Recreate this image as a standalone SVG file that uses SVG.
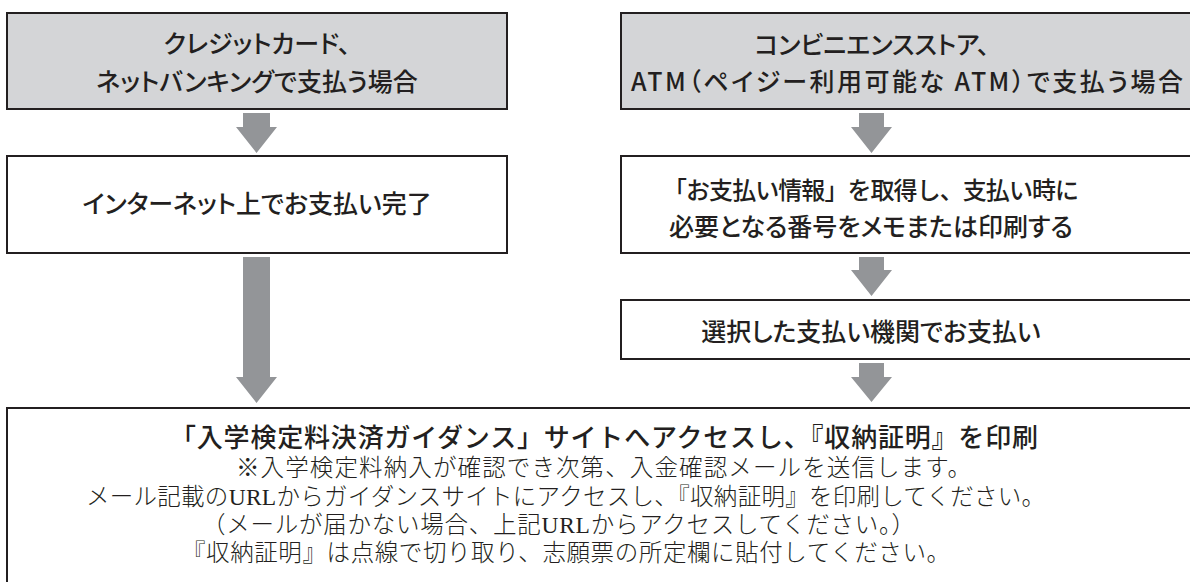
<svg xmlns="http://www.w3.org/2000/svg" width="1190" height="582" viewBox="0 0 1190 582">
<style>
.box{stroke:#231f20;stroke-width:2;}
.g{fill:#d4d5d7;}
.w{fill:#ffffff;}
.arr{fill:#939598;}
.t{font-family:"Noto Sans CJK JP","Liberation Sans",sans-serif;font-size:25px;font-weight:500;fill:#231f20;text-anchor:middle;font-feature-settings:"palt";}
.np{font-feature-settings:normal;}
.b{font-family:"Liberation Serif","Noto Sans CJK JP",serif;font-size:23.5px;font-weight:300;fill:#231f20;}
</style>
<rect width="1190" height="582" fill="#ffffff"/>
<g id="connectors">
<polygon class="arr" points="243,113 270,113 270,127 277,127 256.5,153 236,127 243,127"/>
<polygon class="arr" points="243,257 270,257 270,377 277,377 256.5,403 236,377 243,377"/>
<polygon class="arr" points="859,113 884,113 884,127 892,127 871.5,153 851,127 859,127"/>
<polygon class="arr" points="859,257 884,257 884,270 892,270 871.5,296 851,270 859,270"/>
<polygon class="arr" points="859,363 884,363 884,377 892,377 871.5,402 851,377 859,377"/>
</g>
<g id="node-card">
<rect class="box g" x="7" y="13" width="500" height="96"/>
<text class="t" x="257" y="53">クレジットカード、</text>
<text class="t" x="257" y="91">ネットバンキングで支払う場合</text>
</g>
<g id="node-conv">
<rect class="box g" x="621" y="13" width="620" height="96"/>
<text class="t" x="872" y="54">コンビニエンスストア、</text>
<text class="t" x="907" y="91" textLength="552">ATM（ペイジー利用可能な ATM）で支払う場合</text>
</g>
<g id="node-internet">
<rect class="box w" x="7" y="156" width="500" height="97"/>
<text class="t" x="257" y="213">インターネット上でお支払い完了</text>
</g>
<g id="node-info">
<rect class="box w" x="621" y="156" width="620" height="97"/>
<text class="t np" x="871" y="199" textLength="416" style="font-size:24px">「お支払い情報」を取得し、支払い時に</text>
<text class="t" x="871" y="236">必要となる番号をメモまたは印刷する</text>
</g>
<g id="node-pay">
<rect class="box w" x="621" y="300" width="620" height="59"/>
<text class="t" x="871" y="341">選択した支払い機関でお支払い</text>
</g>
<g id="node-guidance">
<rect class="box w" x="7" y="408" width="1230" height="200"/>
<text class="t np" x="604" y="447" textLength="868" style="font-size:26px">「入学検定料決済ガイダンス」サイトへアクセスし、『収納証明』を印刷</text>
<text class="b" x="236" y="476" textLength="735">※入学検定料納入が確認でき次第、入金確認メールを送信します。</text>
<text class="b" x="86" y="505" textLength="959">メール記載のURLからガイダンスサイトにアクセスし、『収納証明』を印刷してください。</text>
<text class="b" x="202" y="533" textLength="713">（メールが届かない場合、上記URLからアクセスしてください。）</text>
<text class="b" x="182" y="561" textLength="768">『収納証明』は点線で切り取り、志願票の所定欄に貼付してください。</text>
</g>
</svg>
